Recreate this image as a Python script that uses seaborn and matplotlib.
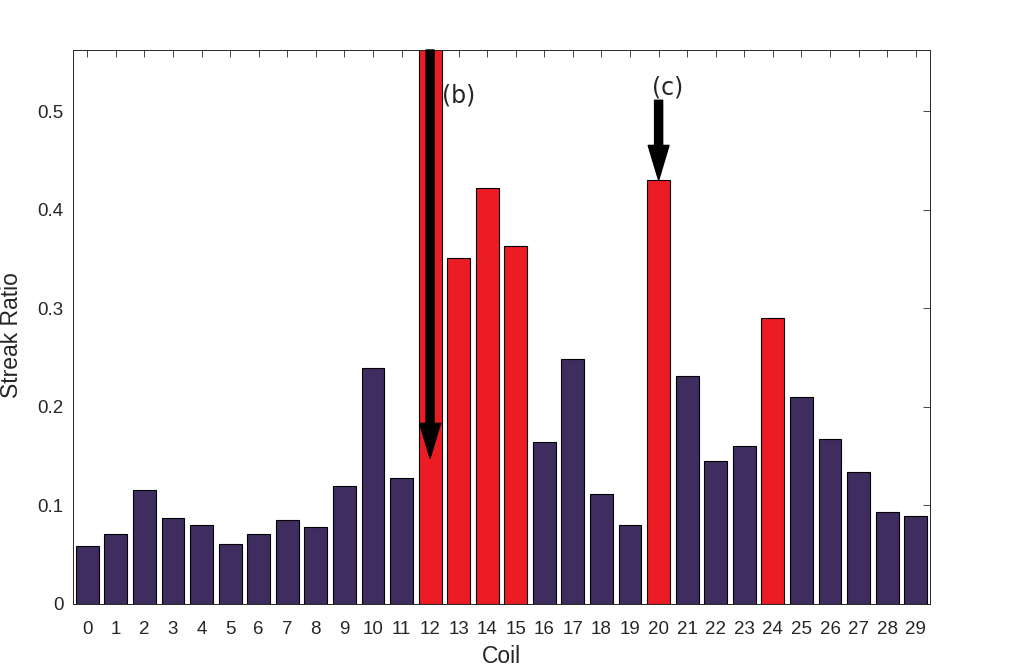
import matplotlib
matplotlib.use('Agg')
import matplotlib.pyplot as plt
import seaborn as sns
import numpy as np

# data
coils = list(range(30))
streak_ratio = [0.059, 0.071, 0.116, 0.087, 0.080, 0.061, 0.071, 0.085, 0.078, 0.120,
                0.239, 0.128, 0.620, 0.351, 0.422, 0.363, 0.164, 0.249, 0.112, 0.080,
                0.430, 0.231, 0.145, 0.160, 0.290, 0.210, 0.167, 0.134, 0.093, 0.089]
flagged = [12, 13, 14, 15, 20, 24]
y_ticks = [0, 0.1, 0.2, 0.3, 0.4, 0.5]
y_tick_labels = ['0', '0.1', '0.2', '0.3', '0.4', '0.5']

purple = '#3f2d5f'
red = '#ec1c24'
text_gray = '#262626'

sns.set_style('white')
plt.rcParams['font.family'] = ['Liberation Sans', 'DejaVu Sans']

fig = plt.figure(figsize=(10.34, 6.70), dpi=100)
ax = fig.add_axes([73 / 1034, 66 / 670, 857 / 1034, 554 / 670])

group = ['hi' if c in flagged else 'lo' for c in coils]
sns.barplot(x=coils, y=streak_ratio, hue=group, palette={'hi': red, 'lo': purple},
            dodge=False, legend=False, width=0.8, edgecolor='black', linewidth=0.8,
            saturation=1, ax=ax)

ax.set_xlim(-0.5, 29.5)
ax.set_ylim(0, 0.562)
ax.set_yticks(y_ticks)
ax.set_yticklabels(y_tick_labels)
ax.set_xticks(range(len(coils)))
ax.set_xticklabels([str(c) for c in coils])

ax.tick_params(direction='in', top=True, right=True, length=5, width=0.6,
               colors=text_gray, labelsize=13.5)
ax.tick_params(axis='y', pad=7)
ax.tick_params(axis='x', pad=12, labeltop=False)
for s in ax.spines.values():
    s.set_color(text_gray)
    s.set_linewidth(0.7)

ax.set_xlabel('Coil', fontsize=16.5, color=text_gray, labelpad=5)
ax.set_ylabel('Streak Ratio', fontsize=16.5, color=text_gray)
ax.yaxis.set_label_coords(-0.058, 0.486)

# arrows marking coils (b) and (c)
arrow_style = 'simple,head_length=1.25,head_width=0.75,tail_width=0.29'
ax.annotate('', xy=(12, 0.148), xytext=(12, 0.562),
            arrowprops=dict(arrowstyle=arrow_style, mutation_scale=20, color='black',
                            shrinkA=0, shrinkB=0), annotation_clip=False)
ax.annotate('', xy=(20, 0.430), xytext=(20, 0.511),
            arrowprops=dict(arrowstyle=arrow_style, mutation_scale=20, color='black',
                            shrinkA=0, shrinkB=0))
ax.text(12.42, 0.516, '(b)', fontsize=17, family='DejaVu Sans', va='center', ha='left')
ax.text(19.77, 0.524, '(c)', fontsize=17, family='DejaVu Sans', va='center', ha='left')

fig.savefig('out.png', dpi=100)
